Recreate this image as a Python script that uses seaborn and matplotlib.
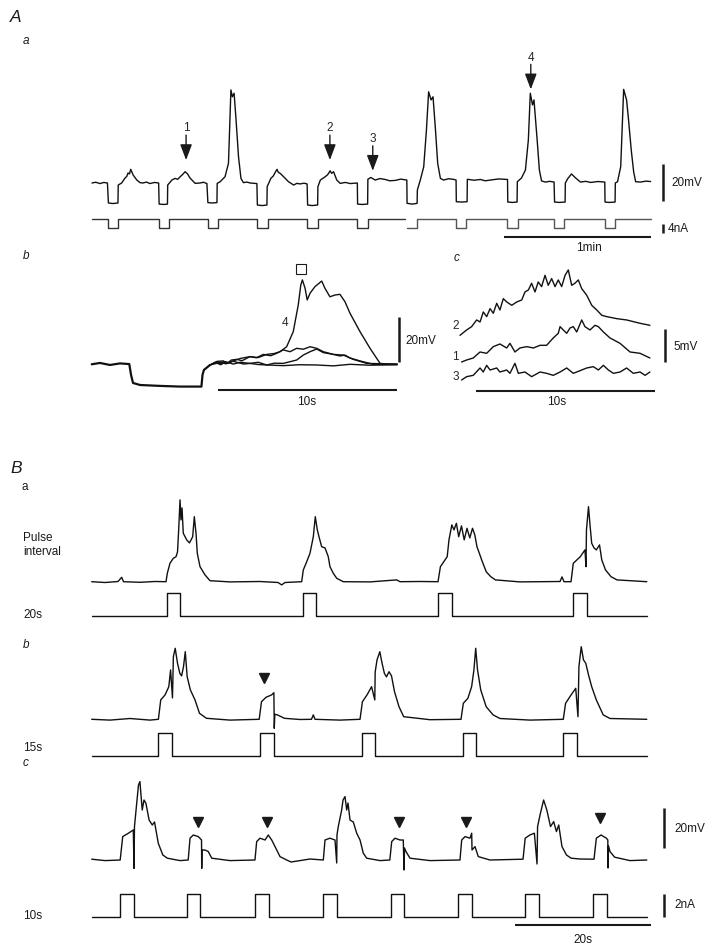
import numpy as np
import matplotlib
matplotlib.use("Agg")
import matplotlib.pyplot as plt
import seaborn as sns

# ======================= DATA =======================
# ---- A a : membrane potential (time s, mV relative to rest) ----
aa_vm = [(0,0),(1.5,0.4),(3.3,-0.3),(4.8,0.3),(6.3,0),(6.7,-10.8),(8.6,-11.1),(10.6,-10.8),(10.7,-1.1),(12.1,0),
         (13.5,2.7),(14.2,3.6),(14.7,5.4),(15.3,4.9),(15.8,7.4),(16.8,4.3),(18.3,1.6),(19.6,0.2),(20.8,0),(22.2,0.5),(23.7,-0.3),
         (25.5,0.3),(27.2,0),(27.4,-11.4),(29.4,-11.6),(30.8,-11.4),(30.9,-1.1),(32.6,1.6),(33.9,2.5),(35.0,2.0),(36.0,3.4),
         (37.0,4.6),(38.0,6.1),(39.0,4.9),(40.0,2.7),(42.1,-0.2),(44.1,0),(45.5,0.4),(46.9,-0.3),(47.3,-10.6),(49.0,-10.8),(51.0,-10.6),
         (51.1,-0.2),(52.3,0.7),(54.3,3.4),(55.7,10.6),(56.7,50.3),(57.3,46.6),(58.0,48.5),(58.8,34.1),
         (59.8,14.2),(60.8,2.5),(61.8,0.2),(63.2,0.5),(64.6,0),(67.3,-0.3),(67.5,-11.9),(69.5,-12.2),(71.4,-11.9),
         (71.5,-2.0),(73.0,2.5),(74.0,3.8),(74.8,5.8),(75.5,7.4),(76.0,5.9),(77.0,5.0),(78.2,3.4),(80.2,0.7),(82.3,-1.1),
         (83.6,-0.2),(85.0,-0.5),(86.5,-0.1),(87.8,-0.5),(88.0,-11.9),(89.9,-12.2),(92.1,-11.9),(92.2,-2.0),(93.2,1.6),(95.2,3.4),
         (96.2,4.5),(97.2,6.6),(97.8,5.2),(98.6,6.1),(99.9,1.6),(101.3,-0.2),(103.4,0.3),(105.4,-0.3),(108.3,0),(108.4,-11.4),(110.3,-11.6),
         (112.5,-11.4),(112.6,2.0),(113.8,3.0),(115.6,1.6),(117.5,2.4),(119.7,1.9),(121.5,1.2),(123.8,1.4),(126.0,2.1),
         (128.5,1.6),(128.6,-11.0),(130.8,-11.4),(132.7,-11.0),(132.8,-3.8),(134.0,1.6),(135.4,8.8),
         (136.5,28.6),(137.4,49.3),(138.4,44.9),(139.2,46.6),(140.2,28.6),(141.1,10.6),(142.2,2.5),
         (143.5,1.6),(145.5,2.3),(147.5,2.0),(148.6,1.6),(148.7,-10.1),(150.8,-10.3),(153.1,-10.1),(153.2,2.0),
         (156.0,1.5),(158.5,1.9),(160.5,1.2),(162.6,1.6),(166.0,2.2),(169.6,1.9),(169.7,-10.3),(171.6,-10.5),
         (173.5,-10.3),(173.6,0.7),(175.3,2.7),(176.9,7.0),(178.1,23.2),(178.9,48.5),(179.8,42.2),
         (180.4,44.9),(181.7,23.2),(182.6,7.0),(183.5,1.1),(185.1,0.5),(186.8,0.9),(188.6,0.5),(188.8,-10.3),
         (190.8,-10.5),(193.1,-10.3),(193.2,0),(194.1,2.2),(195.7,4.9),(197.4,2.7),(199.4,0.5),
         (201.5,0.9),(203.5,0.3),(206.5,0.8),(209.3,0.5),(209.4,-10.3),(211.2,-10.5),(213.5,-10.3),(213.6,0),(214.5,0.7),
         (215.8,8.8),(217.0,50.6),(218.2,44.9),(219.0,34.1),(220.1,17.8),(221.1,5.9),(221.9,0.7),
         (223.9,0.5),(226.0,1.0),(228.0,0.8)]
aa_pulse_on_1 = [6.4, 27.3, 47.2, 67.5, 87.9, 108.3]
aa_pulse_on_2 = [128.5, 148.6, 169.5, 188.6, 209.2]
aa_gap = (127.6, 128.5)   # break in the current record
aa_pulse_width = 4.2      # s
aa_pulse_amp = -4.0       # nA
aa_end = 228.0
aa_arrows = [("1", 38.4, 12.4), ("2", 97.1, 12.4), ("3", 114.6, 6.6), ("4", 179.1, 50.6)]

# ---- A b : superimposed sweeps (s, mV) ----
ab_step = [(0,0),(0.46,0.6),(1.02,-0.3),(1.58,0.4),(2.10,0.1),(2.20,-4.8),(2.31,-8.3),(2.70,-9.2),
           (3.82,-9.6),(4.93,-9.9),(6.13,-9.9),(6.19,-4.7),(6.27,-2.5),(6.61,-0.3)]
ab_sweep4 = [(7.2,0.9),(7.5,0.2),(7.91,1.5),(8.3,2.6),(8.84,3.4),(9.3,3.0),(9.78,4.4),(10.2,4.8),(10.52,5.6),
             (10.89,7.8),(11.26,14.5),(11.54,26.4),
             (11.68,35.2),(11.77,37.5),(11.92,33.8),(12.04,28.6),(12.20,31.6),(12.47,34.5),(12.85,37.0),
             (13.03,33.8),(13.31,30.0),(13.59,30.8),(13.87,31.1),(14.15,27.8),(14.43,22.7),(14.99,14.5),
             (15.55,7.1),(16.11,0.4),(16.66,0),(17.06,0.1)]
ab_sweep2 = [(7.0,1.0),(7.2,0.1),(7.35,1.2),(7.6,0.6),(7.8,1.9),(8.10,2.2),(8.4,1.6),(8.84,3.4),(9.2,2.9),
             (9.59,4.4),(10.0,3.8),(10.34,4.9),(10.70,6.4),(11.08,5.6),(11.45,7.1),
             (11.82,6.7),(12.20,7.8),(12.57,7.1),(12.94,5.6),(13.50,4.4),(14.06,4.1),(14.61,2.2),
             (15.36,0.4),(17.06,0.1)]
ab_sweep1 = [(6.9,0.9),(7.2,-0.2),(7.5,1.1),(7.91,0.1),(8.3,0.9),(8.84,0.4),(9.3,0.9),(9.78,-0.3),(10.2,0.5),
             (10.70,0.4),(11.45,1.9),(11.82,4.1),(12.20,5.6),
             (12.57,6.8),(12.94,5.2),(13.50,4.4),(13.87,3.7),(14.15,4.1),(14.43,2.8),(14.99,1.5),
             (15.73,0),(17.06,-0.1)]
ab_sweep3 = [(7.0,1.3),(7.35,1.5),(7.6,0.4),(7.9,1.4),(8.10,0.9),(8.5,0.1),(8.84,0.4),(9.3,-0.1),(9.78,-0.3),
             (10.70,-0.6),(11.6,-0.2),(12.57,-0.3),(13.5,-0.7),(14.43,0),(15.5,-0.4),(17.06,-0.2)]
ab_peak_marker = (11.68, 42.4)

# ---- A c : expanded sweeps 2, 1, 3 (s, mV incl. display offset) ----
ac_sweep2 = [(0,6.7),(0.37,7.5),(0.65,8.0),(0.93,9.0),(1.12,8.7),(1.30,10.2),(1.49,9.5),(1.68,10.7),
             (1.86,10.0),(2.05,11.5),(2.23,10.5),(2.42,12.2),(2.61,11.7),(2.89,11.2),(3.17,11.7),
             (3.45,12.0),(3.63,13.2),(3.82,13.5),(4.00,14.5),(4.19,13.2),(4.37,14.7),(4.56,14.0),
             (4.75,15.7),(4.93,14.2),(5.12,15.2),(5.31,14.0),(5.49,15.0),(5.68,14.0),(5.87,15.7),
             (6.05,16.5),(6.24,14.2),(6.42,14.5),(6.61,15.0),(6.80,13.7),(7.08,12.7),(7.36,11.2),
             (7.64,10.5),(7.92,9.7),(8.20,9.5),(8.75,9.2),(9.31,9.0),(10.06,8.5),(10.61,8.2)]
ac_sweep1 = [(0.09,2.7),(0.37,3.0),(0.74,3.3),(1.12,4.2),(1.49,4.0),(1.86,5.0),(2.23,5.4),(2.61,4.8),
             (2.79,5.5),(3.07,4.2),(3.35,4.8),(3.73,5.0),(4.10,4.8),(4.47,5.2),(4.84,5.2),(5.21,6.3),
             (5.49,7.0),(5.59,8.0),(5.77,7.5),(5.96,7.0),(6.15,7.8),(6.33,8.0),(6.52,7.2),(6.80,9.0),
             (6.98,8.0),(7.26,7.5),(7.54,8.2),(7.73,8.0),(8.01,7.2),(8.38,6.3),(8.94,5.5),(9.50,4.2),
             (10.06,4.0),(10.61,3.3)]
ac_sweep3 = [(0.09,0),(0.37,0.5),(0.74,0.7),(1.12,1.8),(1.30,1.2),(1.49,2.2),(1.68,1.5),(2.05,1.8),
             (2.23,1.2),(2.61,1.5),(2.79,1.0),(3.07,2.5),(3.26,1.0),(3.63,1.2),(4.00,0.5),(4.47,1.2),
             (4.84,1.0),(5.21,0.7),(5.59,1.2),(5.96,1.8),(6.33,1.0),(6.80,1.5),(7.08,1.8),(7.45,2.0),
             (7.73,1.5),(8.01,2.2),(8.29,1.5),(8.57,1.0),(8.94,1.2),(9.31,1.8),(9.68,1.0),(10.06,1.2),
             (10.34,0.7),(10.61,1.2)]
ac_labels = [("2", 8.1), ("1", 3.5), ("3", 0.5)]

# ---- B a : 20 s pulse interval (s, mV) ----
ba_vm = [(0,0),(1.96,-0.4),(3.87,0.1),(4.41,2.2),(4.68,0),(7.10,-0.3),(9.31,0.1),(10.93,0),(11.12,4.2),
         (11.51,9.2),(12.0,11.7),(12.40,12.5),(12.62,14.9),(12.79,25.9),(12.99,40.9),(13.13,30.9),
         (13.28,36.9),(13.47,24.2),(13.97,20.9),(14.38,19.4),(14.85,22.5),(15.09,32.5),(15.34,24.2),
         (15.53,14.2),(15.93,7.5),(16.66,3.4),(17.40,0.5),(20.34,-0.1),(24.75,0.1),(27.40,-0.4),
         (27.94,-1.6),(28.43,-0.4),(30.88,0),(31.12,5.9),(31.62,10.0),(32.10,14.2),(32.59,22.5),
         (32.88,32.5),(33.18,25.9),(33.47,21.9),(33.82,17.5),(34.31,16.9),(34.79,12.5),(35.04,7.5),
         (35.53,4.2),(36.03,1.7),(37.0,0),(40.93,-0.1),(44.85,0.9),(45.34,0),(48.28,0.1),(50.93,0),
         (51.28,7.5),(52.28,12.5),(52.54,20.9),(52.96,28.4),(53.28,25.9),(53.63,29.2),(53.97,22.5),
         (54.38,27.9),(54.78,20.9),(55.19,26.7),(55.60,21.9),(56.0,26.7),(56.34,23.4),(56.66,17.5),
         (57.35,10.9),(58.01,5.0),(58.69,2.5),(59.37,0.9),(62.99,-0.1),(68.87,0.1),(69.16,2.4),
         (69.46,0),(70.49,0),(70.82,9.2),(71.85,12.5),(72.54,15.9),(72.69,7.5),(72.76,25.9),
         (73.06,37.5),(73.28,28.4),(73.53,19.2),(73.87,16.9),(74.21,15.9),(74.68,18.4),(75.01,10.9),
         (75.56,5.9),(76.37,2.5),(77.25,0.9),(81.63,0)]
ba_pulse_on = [11.03, 31.03, 50.97, 70.84]

# ---- B b : 15 s pulse interval ----
bb_vm = [(0,0),(2.69,-0.4),(5.63,0.4),(8.57,-0.4),(9.81,0),(10.15,9.7),(10.79,12.2),(11.34,16.3),
         (11.60,24.7),(11.88,10.7),(12.01,31.3),(12.28,35.5),(12.62,28.0),(12.96,23.0),(13.22,21.7),
         (13.50,26.3),(13.76,33.8),(14.04,21.3),(14.51,14.7),(15.19,9.7),(15.85,3.0),(16.87,0.5),
         (20.34,-0.4),(24.63,0),(24.97,8.8),(25.63,11.0),(26.46,12.2),(26.79,13.3),(26.85,-4.5),
         (26.93,2.5),(27.32,2.2),(28.34,0.5),(30.63,-0.1),(32.32,0),(32.59,2.2),(32.84,0),(36.51,-0.4),
         (39.46,0),(39.81,8.8),(40.49,12.2),(41.16,16.3),(41.63,9.7),(41.69,23.7),(41.96,29.7),
         (42.37,33.8),(42.69,28.2),(43.04,23.0),(43.35,21.2),(43.72,23.8),(44.09,21.7),(44.53,13.8),
         (45.19,6.3),(45.88,1.3),(49.75,-0.2),(54.31,0),(54.65,8.0),(55.32,10.5),(55.87,16.3),
         (56.21,24.7),(56.47,35.5),(56.74,24.7),(57.21,14.7),(58.01,6.3),(59.03,2.2),(60.04,0.4),
         (64.46,-0.4),(69.35,0),(69.69,8.0),(70.5,12.2),(71.18,15.5),(71.51,1.3),(71.65,26.3),
         (71.99,36.3),(72.32,29.7),(72.66,28.0),(73.06,22.2),(73.53,16.3),(74.21,9.7),(75.22,2.2),
         (76.22,0.4),(81.63,0)]
bb_pulse_on = [9.79, 24.75, 39.71, 54.56, 69.35]
bb_marks = [(25.31, 20.5)]

# ---- B c : 10 s pulse interval ----
bc_vm = [(0,0.4),(1.96,-0.3),(4.19,0),(4.56,11.7),(5.40,13.4),(6.12,15.0),(6.22,-4.2),(6.29,16.7),
         (6.62,28.4),(6.88,37.5),(7.09,39.2),(7.43,25.0),(7.69,30.0),(7.97,28.4),(8.44,20.0),(8.91,17.5),
         (9.24,19.0),(9.79,8.4),(10.46,2.5),(11.13,0.9),(12.99,-0.3),(14.19,0),(14.46,10.9),(14.94,12.5),
         (15.68,11.7),(16.15,10.0),(16.18,-4.2),(16.22,5.0),(16.66,5.0),(17.15,4.2),(17.65,0.9),
         (20.34,-0.3),(24.01,0),(24.26,9.2),(24.75,10.9),(25.49,10.0),(25.97,12.5),(26.47,10.0),
         (27.21,5.0),(27.69,1.7),(28.68,0),(29.31,-1.0),(30.63,-0.3),(32.10,0.5),(34.06,0),(34.31,10.0),
         (35.04,10.9),(35.78,10.0),(36.03,-1.5),(36.07,12.5),(36.26,16.7),(36.76,25.0),(36.96,30.0),
         (37.25,31.7),(37.50,25.0),(37.69,28.5),(37.99,20.0),(38.47,19.0),(38.97,13.4),(39.46,10.0),
         (39.94,3.4),(40.44,0.9),(42.40,-0.3),(43.84,0),(44.12,9.2),(44.60,10.9),(45.34,10.0),
         (45.82,10.0),(45.93,-5.0),(46.0,6.0),(46.22,4.2),(46.81,0.9),(49.75,-0.3),(54.16,0),(54.41,10.0),
         (54.90,11.7),(55.63,10.9),(55.88,13.4),(55.93,5.0),(56.37,6.7),(56.85,1.7),(58.57,0),
         (63.43,0.4),(63.75,10.9),(64.43,12.5),(65.10,13.4),(65.49,-2.0),(65.57,16.7),(65.99,23.4),
         (66.46,30.0),(66.93,25.0),(67.47,16.7),(67.94,19.2),(68.34,14.2),(68.68,17.5),(69.16,6.7),
         (69.82,2.5),(70.50,0.9),(71.81,0.5),(73.87,0.4),(74.21,10.9),(74.90,12.5),(75.69,10.9),
         (75.90,10.0),(75.93,-4.0),(76.0,7.0),(76.22,4.2),(76.91,1.4),(79.16,-0.3),(81.63,0)]
bc_pulse_on = [4.16, 13.97, 24.01, 34.06, 43.97, 53.91, 63.75, 73.72]
bc_marks = [(15.68, 19.2), (25.74, 19.2), (45.24, 19.2), (55.04, 19.2), (74.75, 20.9)]

b_pulse_width = 2.0   # s
b_pulse_amp = 2.0     # nA
b_end = 81.63

# ======================= FIGURE =======================
W, H = 720, 951
sns.set_theme(style="white")
plt.rcParams["font.family"] = ["Liberation Sans", "DejaVu Sans"]
fig = plt.figure(figsize=(W / 100, H / 100), dpi=100)
INK = "#111111"
frames = []


def frame(x0, y0, sx, sy):
    """transparent full-figure axes; x0,y0 = pixel of data origin, sx,sy = px per unit"""
    ax = fig.add_axes([0, 0, 1, 1])
    ax.set_axis_off()
    ax.patch.set_alpha(0)
    frames.append((ax, (-x0 / sx, (W - x0) / sx), ((y0 - H) / sy, y0 / sy)))
    return ax


def trace(ax, pts, lw=1.0, color=INK):
    a = np.asarray(pts, float)
    sns.lineplot(x=a[:, 0], y=a[:, 1], ax=ax, color=color, linewidth=lw, sort=False,
                 estimator=None, errorbar=None, legend=False)


def pulses(onsets, width, amp, t_start, t_end):
    t, v = [t_start], [amp if onsets and onsets[0] <= t_start else 0.0]
    for o in onsets:
        if o > t_start:
            t += [o, o]
            v += [0, amp]
        t += [o + width, o + width]
        v += [amp, 0]
    t.append(t_end)
    v.append(0)
    return list(zip(t, v))


def bar(ax, xs, ys, lw=1.8):
    ax.plot(xs, ys, color="k", lw=lw, solid_capstyle="butt")


def label(x, y, s, size=8.5, ha="left", va="center", style="normal"):
    fig.text(x / W, 1 - y / H, s, fontsize=size, ha=ha, va=va, style=style, color="k")


# ---------- A a ----------
axAv = frame(92, 183, 2.45, 1.85)
axAi = frame(92, 219, 2.45, 2.35)
trace(axAv, aa_vm)
trace(axAi, pulses(aa_pulse_on_1, aa_pulse_width, aa_pulse_amp, 0.0, aa_gap[0]), color="#333333")
trace(axAi, pulses(aa_pulse_on_2, aa_pulse_width, aa_pulse_amp, aa_gap[1], aa_end), color="#555555")
for txt, t, v in aa_arrows:
    axAv.annotate("", xy=(t, v), xytext=(t, v + 13.5),
                  arrowprops=dict(arrowstyle="-|>,head_length=0.95,head_width=0.36", color="k",
                                  lw=1.0, shrinkA=0, shrinkB=0, mutation_scale=10))
    axAv.text(t, v + 17.2, txt, fontsize=8.5, ha="center", va="center")
bar(axAv, [233.1, 233.1], [-9.9, 10.1])
bar(axAi, [233.1, 233.1], [-5.8, -2.2])
bar(axAv, [168.0, 228.0], [-29.2, -29.2], lw=1.5)
label(671, 183, "20mV")
label(668, 229.5, "4nA")
label(589, 248.5, "1min", ha="center")

# ---------- A b ----------
axB = frame(91.7, 364.3, 17.9, 2.25)
trace(axB, ab_step, lw=1.6)
for sw in (ab_sweep3, ab_sweep1, ab_sweep2, ab_sweep4):
    trace(axB, [ab_step[-1]] + sw)
axB.plot([ab_peak_marker[0]], [ab_peak_marker[1]], marker="s", ms=6.5, mfc="none", mec="k", mew=0.8)
axB.text(10.8, 18.2, "4", fontsize=8.5, ha="center", va="center")
bar(axB, [17.17, 17.17], [1.2, 21.2])
bar(axB, [7.07, 17.07], [-11.4, -11.4], lw=1.5)
label(405, 341, "20mV")
label(307, 402, "10s", ha="center")

# ---------- A c ----------
axC = frame(460, 380, 17.9, 6.67)
for sw in (ac_sweep2, ac_sweep1, ac_sweep3):
    trace(axC, sw)
for txt, v in ac_labels:
    axC.text(-0.05, v, txt, fontsize=8.5, ha="right", va="center")
bar(axC, [11.45, 11.45], [2.65, 7.65])
bar(axC, [0.89, 10.89], [-1.6, -1.6], lw=1.5)
label(673, 347, "5mV")
label(557, 402, "10s", ha="center")

# ---------- B ----------
rows = [(581.7, 616.0, ba_vm, ba_pulse_on, []),
        (719.3, 755.7, bb_vm, bb_pulse_on, bb_marks),
        (860.0, 916.7, bc_vm, bc_pulse_on, bc_marks)]
for yv, yi, vm, ons, marks in rows:
    axv = frame(91.7, yv, 6.8, 2.0)
    axi = frame(91.7, yi, 6.8, 11.3)
    trace(axv, vm)
    trace(axi, pulses(ons, b_pulse_width, b_pulse_amp, 0.0, b_end))
    for t, v in marks:
        axv.plot([t], [v], marker="v", ms=7.5, color="k", mec="k")
    last_v, last_i = axv, axi

bar(last_v, [84.16, 84.16], [6.0, 26.0])
bar(last_i, [84.16, 84.16], [0.0, 2.0])
bar(last_i, [62.2, 82.2], [-0.76, -0.76], lw=1.5)
label(674, 829, "20mV")
label(674, 905, "2nA")
label(583, 940, "20s", ha="center")

# ---------- panel letters & side labels ----------
label(10, 17, "A", size=12.5, style="italic")
label(23, 41, "a", size=8.5, style="italic")
label(23, 256, "b", size=8.5, style="italic")
label(454, 258, "c", size=8.5, style="italic")
label(10, 468, "B", size=12.5, style="italic")
label(22, 487, "a", size=8.5)
label(23, 538, "Pulse", size=8.5)
label(23, 552, "interval", size=8.5)
label(23, 615, "20s", size=8.5)
label(23, 645, "b", size=8.5, style="italic")
label(23, 748, "15s", size=8.5)
label(23, 763, "c", size=8.5, style="italic")
label(23, 916, "10s", size=8.5)

for ax, xl, yl in frames:
    ax.set_xlim(*xl)
    ax.set_ylim(*yl)

fig.savefig("out.png", dpi=100, facecolor="white")
